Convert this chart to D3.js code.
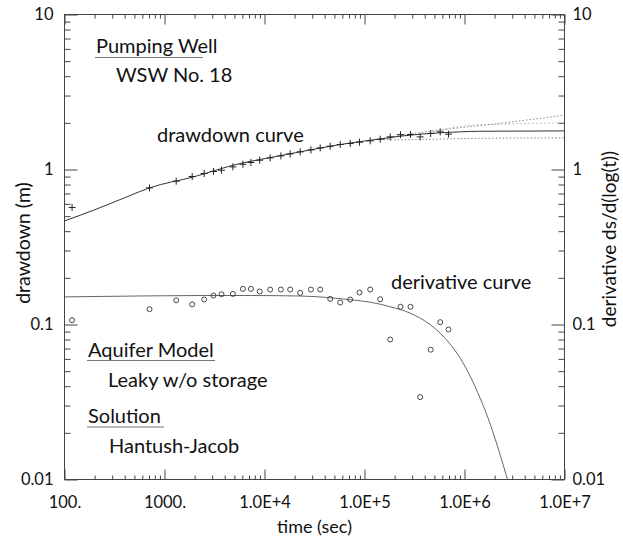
<!DOCTYPE html>
<html lang="en">
<head>
<meta charset="UTF-8">
<title>Pumping test</title>
<script src="https://cdn.jsdelivr.net/npm/d3@7"></script>
<style>
  body { margin: 0; background: #fff; }
  svg text { font-family: Lato, "Open Sans", sans-serif; fill: #111; }
  .axis line { stroke: #444; }
  .axis path { display: none; }
</style>
</head>
<body>
<svg id="chart" width="623" height="537"></svg>
<script>
// observed data (time in sec)
const obsTime = [119, 708, 1309, 1892, 2494, 3090, 3715, 4831, 6081, 7311, 8954, 11400, 14590, 18070,
  22750, 29110, 36060, 45400, 57150, 71950, 89130, 114000, 143600, 180700, 229100, 288400, 360600,
  459200, 571500, 691800]
const obsDrawdown = [0.569, 0.761, 0.841, 0.901, 0.942, 0.971, 0.989, 1.040, 1.081, 1.110, 1.148, 1.188,
  1.224, 1.261, 1.300, 1.338, 1.378, 1.413, 1.449, 1.472, 1.500, 1.531, 1.568, 1.623, 1.678, 1.682,
  1.623, 1.708, 1.749, 1.690]
const obsDerivative = [0.1066, 0.1255, 0.1432, 0.1349, 0.1449, 0.1538, 0.1567, 0.1575, 0.1698, 0.1698,
  0.1633, 0.1681, 0.1681, 0.1681, 0.1600, 0.1681, 0.1681, 0.1463, 0.1387, 0.1449, 0.1608, 0.1681,
  0.1456, 0.0800, 0.1302, 0.1302, 0.0340, 0.0688, 0.1035, 0.0929]

// fitted curves
const fitTime = [100, 195, 420, 708, 1950, 5715, 9100, 22750, 57150, 143600, 227500, 360600, 571500,
  907000, 1436000, 1e7]
const fitDrawdown = [0.466, 0.546, 0.666, 0.761, 0.896, 1.094, 1.161, 1.300, 1.449, 1.575, 1.640, 1.690,
  1.725, 1.750, 1.765, 1.774]
const fitDerivTime = [100, 228, 720, 2275, 7190, 22750, 45400, 72000, 114000, 180700, 287000, 360600,
  454000, 571500, 719000, 906000, 1140000, 1436000, 1810000, 2275000, 2690000]
const fitDerivative = [0.1507, 0.1517, 0.1530, 0.1538, 0.1538, 0.1527, 0.1489, 0.1445, 0.1393, 0.1302,
  0.1183, 0.1099, 0.0998, 0.0879, 0.0747, 0.0607, 0.0464, 0.0334, 0.0227, 0.0144, 0.0100]

// dotted curves at late time
const upperTime = [143600, 227500, 719000, 1538000, 3370000, 1e7]
const upperVal = [1.568, 1.655, 1.83, 1.93, 2.05, 2.24]
const middleTime = [486000, 1065000, 2275000, 1e7]
const middleVal = [1.75, 1.92, 1.96, 2.0]
const lowerTime = [143600, 227500, 486000, 1065000, 1e7]
const lowerVal = [1.56, 1.555, 1.568, 1.585, 1.60]

const xMajor = [1e2, 1e3, 1e4, 1e5, 1e6, 1e7]
const yMajor = [0.01, 0.1, 1, 10]
const xLabels = ['100.', '1000.', '1.0E+4', '1.0E+5', '1.0E+6', '1.0E+7']
const yLabels = ['0.01', '0.1', '1', '10']

const pL = 64.5, pR = 564.5, pT = 14.5, pB = 479.5

const svg = d3.select('#chart')
const x = d3.scaleLog().domain([1e2, 1e7]).range([pL, pR])
const y = d3.scaleLog().domain([0.01, 10]).range([pB, pT])

function minors(majors) {
  let out = []
  for (let i = 0; i < majors.length - 1; i++)
    for (let k = 2; k <= 9; k++) out.push(majors[i] * k)
  return out
}
const xMinor = minors(xMajor), yMinor = minors(yMajor)

const fx = d => xLabels[xMajor.indexOf(d)]
const fy = d => yLabels[yMajor.indexOf(d)]

// axes, ticks pointing into the plot
svg.append('g').attr('class', 'axis').attr('transform', `translate(0,${pB})`)
  .call(d3.axisBottom(x).tickValues(xMajor).tickFormat(fx).tickSizeInner(-10).tickSizeOuter(0).tickPadding(17))
svg.append('g').attr('class', 'axis').attr('transform', `translate(0,${pB})`)
  .call(d3.axisBottom(x).tickValues(xMinor).tickFormat('').tickSizeInner(-4).tickSizeOuter(0))
svg.append('g').attr('class', 'axis').attr('transform', `translate(0,${pT})`)
  .call(d3.axisTop(x).tickValues(xMajor).tickFormat('').tickSizeInner(-10).tickSizeOuter(0))
svg.append('g').attr('class', 'axis').attr('transform', `translate(0,${pT})`)
  .call(d3.axisTop(x).tickValues(xMinor).tickFormat('').tickSizeInner(-4).tickSizeOuter(0))

svg.append('g').attr('class', 'axis').attr('transform', `translate(${pL},0)`)
  .call(d3.axisLeft(y).tickValues(yMajor).tickFormat(fy).tickSizeInner(-13).tickSizeOuter(0).tickPadding(11))
svg.append('g').attr('class', 'axis').attr('transform', `translate(${pL},0)`)
  .call(d3.axisLeft(y).tickValues(yMinor).tickFormat('').tickSizeInner(-6).tickSizeOuter(0))
svg.append('g').attr('class', 'axis').attr('transform', `translate(${pR},0)`)
  .call(d3.axisRight(y).tickValues(yMajor).tickFormat(fy).tickSizeInner(-13).tickSizeOuter(0).tickPadding(8))
svg.append('g').attr('class', 'axis').attr('transform', `translate(${pR},0)`)
  .call(d3.axisRight(y).tickValues(yMinor).tickFormat('').tickSizeInner(-6).tickSizeOuter(0))

svg.selectAll('.axis text').style('font-size', '16.5px').attr('fill', '#111')

svg.append('rect').attr('x', pL).attr('y', pT)
  .attr('width', pR - pL).attr('height', pB - pT)
  .attr('fill', 'none').attr('stroke', '#444')

// axis titles
svg.append('text').attr('x', (pL + pR) / 2).attr('y', 533)
  .attr('text-anchor', 'middle').style('font-size', '18px').text('time (sec)')
svg.append('text').attr('transform', `translate(29.5,${(pT + pB) / 2 - 4}) rotate(-90)`)
  .attr('text-anchor', 'middle').style('font-size', '19.5px').text('drawdown (m)')
svg.append('text').attr('transform', `translate(616,${(pT + pB) / 2 - 8}) rotate(-90)`)
  .attr('text-anchor', 'middle').style('font-size', '19px').text('derivative ds/d(log(t))')

svg.append('clipPath').attr('id', 'clip').append('rect')
  .attr('x', pL).attr('y', pT).attr('width', pR - pL).attr('height', pB - pT)
const plot = svg.append('g').attr('clip-path', 'url(#clip)')

const line = d3.line().x(d => x(d[0])).y(d => y(d[1])).curve(d3.curveMonotoneX)

plot.append('path').datum(d3.zip(upperTime, upperVal)).attr('d', line)
  .attr('fill', 'none').attr('stroke', '#888').attr('stroke-dasharray', '1.5,2')
plot.append('path').datum(d3.zip(middleTime, middleVal)).attr('d', line)
  .attr('fill', 'none').attr('stroke', '#aaa').attr('stroke-dasharray', '1.5,2.5')
plot.append('path').datum(d3.zip(lowerTime, lowerVal)).attr('d', line)
  .attr('fill', 'none').attr('stroke', '#888').attr('stroke-dasharray', '1.5,2')

plot.append('path').datum(d3.zip(fitTime, fitDrawdown)).attr('d', line)
  .attr('fill', 'none').attr('stroke', '#333').attr('stroke-width', 1)
plot.append('path').datum(d3.zip(fitDerivTime, fitDerivative)).attr('d', line)
  .attr('fill', 'none').attr('stroke', '#666').attr('stroke-width', 1)

// drawdown crosses
plot.selectAll('.cross').data(d3.zip(obsTime, obsDrawdown)).join('path')
  .attr('class', 'cross')
  .attr('d', d => `M${x(d[0]) - 3.5},${y(d[1])}h7M${x(d[0])},${y(d[1]) - 3.5}v7`)
  .attr('stroke', '#222').attr('stroke-width', 1).attr('fill', 'none')

// derivative circles
plot.selectAll('.circ').data(d3.zip(obsTime, obsDerivative)).join('circle')
  .attr('class', 'circ')
  .attr('cx', d => x(d[0])).attr('cy', d => y(d[1])).attr('r', 2.5)
  .attr('fill', 'none').attr('stroke', '#333').attr('stroke-width', 0.9)

// annotations
const notes = [
  { t: 'Pumping Well', x: 96, y: 53, u: [95, 203, 57.5] },
  { t: 'WSW No. 18', x: 116, y: 82 },
  { t: 'drawdown curve', x: 157, y: 141.5 },
  { t: 'derivative curve', x: 391, y: 288.5 },
  { t: 'Aquifer Model', x: 88, y: 357, u: [87, 215, 360.5] },
  { t: 'Leaky w/o storage', x: 108, y: 387 },
  { t: 'Solution', x: 88, y: 423, u: [87, 164, 427] },
  { t: 'Hantush-Jacob', x: 109, y: 453 }
]
notes.forEach(n => {
  svg.append('text').attr('x', n.x).attr('y', n.y).style('font-size', '20px').text(n.t)
  if (n.u) svg.append('line').attr('x1', n.u[0]).attr('x2', n.u[1]).attr('y1', n.u[2]).attr('y2', n.u[2])
    .attr('stroke', '#777').attr('stroke-width', 1.2)
})
</script>
</body>
</html>
